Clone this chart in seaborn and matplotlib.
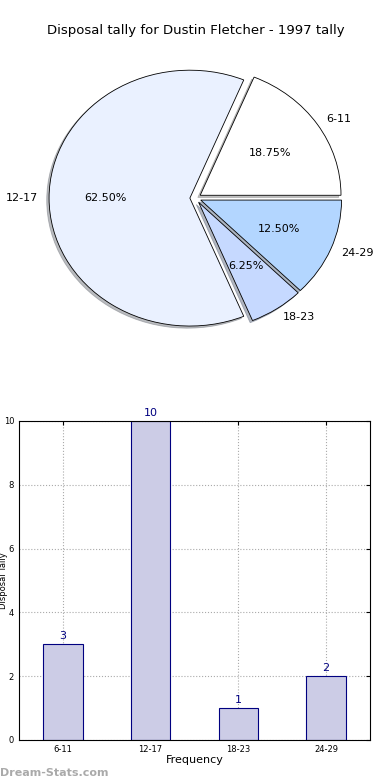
import matplotlib
matplotlib.use("Agg")
import matplotlib.pyplot as plt
import seaborn as sns
import pandas as pd

# dados
faixas = ['6-11', '12-17', '18-23', '24-29']
contagem = [3, 10, 1, 2]
cores_pie = ['#FFFFFF', '#EAF1FF', '#C6D9FF', '#B3D6FF']
titulo = 'Disposal tally for Dustin Fletcher - 1997 tally'

sns.set_style('white')
plt.rcParams['font.family'] = ['DejaVu Sans']
plt.rcParams.update({'text.color': 'black', 'axes.labelcolor': 'black',
                     'xtick.color': 'black', 'ytick.color': 'black'})

fig = plt.figure(figsize=(3.9, 7.8), dpi=100)

# pizza
ax1 = fig.add_axes([0.05, 0.541, 0.9026, 0.41])
ax1.pie(contagem, labels=faixas, colors=cores_pie, autopct='%1.2f%%',
        explode=[0.04] * len(contagem), shadow={'ox': -0.012, 'oy': -0.012, 'shade': 0.5},
        startangle=0, labeldistance=1.08,
        wedgeprops={'edgecolor': 'black', 'linewidth': 0.6},
        textprops={'fontsize': 8})
ax1.set_aspect('auto')
ax1.set_xlim(-1.25, 1.25)
ax1.set_ylim(-1.25, 1.25)
ax1.set_title(titulo, fontsize=9.5, pad=3)

# barras
df = pd.DataFrame({'faixa': faixas, 'n': contagem})
ax2 = fig.add_axes([0.0487, 0.0513, 0.9, 0.409])
sns.barplot(data=df, x='faixa', y='n', ax=ax2, width=0.45, color='#CCCCE6',
            saturation=1, edgecolor='#000080', linewidth=0.8)
for i, v in enumerate(contagem):
    ax2.text(i, v + 0.1, str(v), ha='center', va='bottom', color='#000080', fontsize=8)
ax2.set_xlim(-0.5, 3.5)
ax2.set_ylim(0, 10)
ax2.set_yticks([0, 2, 4, 6, 8, 10])
ax2.grid(True, linestyle=':', color='#AAAAAA', linewidth=0.8)
ax2.set_axisbelow(True)
ax2.tick_params(direction='in', labelsize=6, top=True, right=True, length=3)
ax2.set_xlabel('Frequency', fontsize=8, labelpad=1)
ax2.set_ylabel('Disposal Tally', fontsize=6)
ax2.yaxis.set_label_coords(-0.032, 0.5)
for s in ax2.spines.values():
    s.set_color('black')
    s.set_linewidth(0.8)

fig.text(0.0, 0.005, 'Dream-Stats.com', fontsize=8, color='#AAAAAA', fontweight='bold')

plt.savefig('out.png', dpi=100)
plt.close()
